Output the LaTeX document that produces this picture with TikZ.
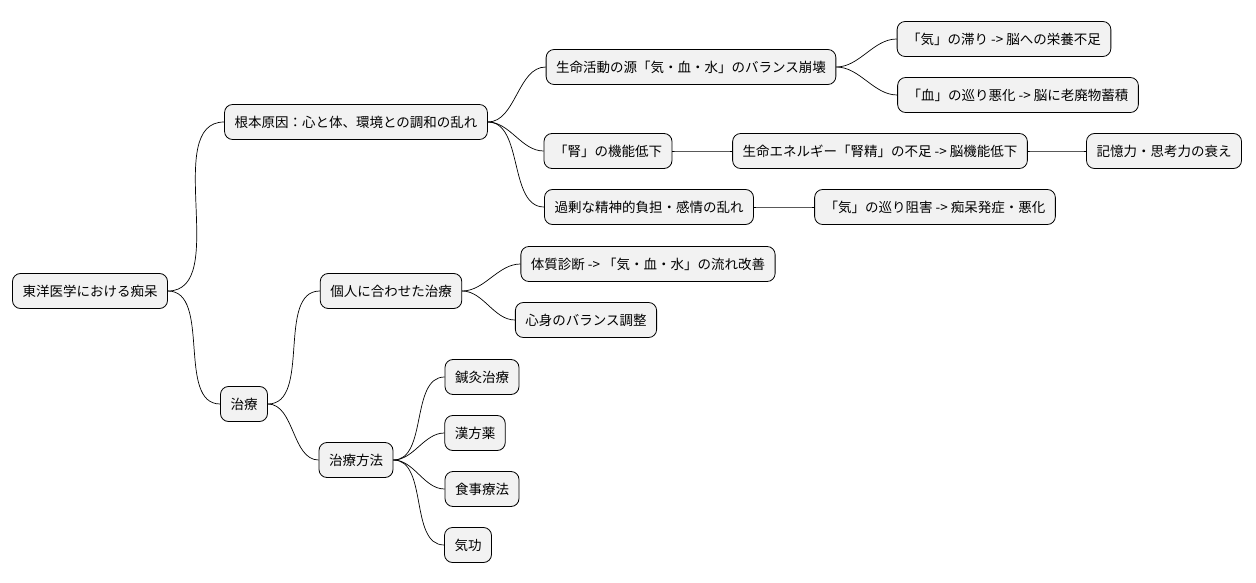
\documentclass[tikz,border=0pt]{standalone}
\usepackage{fontspec}
\setmainfont{Noto Sans CJK JP}
\usetikzlibrary{positioning}

\begin{document}
\begin{tikzpicture}[x=1pt,y=-1pt,
        topic/.style={draw, rounded corners=8pt, fill=gray!10, line width=0.8pt,
            minimum height=35pt, inner xsep=10pt, font=\fontsize{13.5}{15}\selectfont},
        link/.style={line width=0.7pt, out=0, in=180, looseness=0.9}]
    \useasboundingbox (0,0) rectangle (1256,583);
    \node[topic] (root) at (90,291) {東洋医学における痴呆};
    \node[topic] (cause) at (356,122) {根本原因：心と体、環境との調和の乱れ};
    \node[topic] (life) at (691,67) {生命活動の源「気・血・水」のバランス崩壊};
    \node[topic] (qi) at (1004,39) {「気」の滞り -> 脳への栄養不足};
    \node[topic] (blood) at (1018,95) {「血」の巡り悪化 -> 脳に老廃物蓄積};
    \node[topic] (kidney) at (608,151) {「腎」の機能低下};
    \node[topic] (essence) at (880,151) {生命エネルギー「腎精」の不足 -> 脳機能低下};
    \node[topic] (memory) at (1164,151) {記憶力・思考力の衰え};
    \node[topic] (stress) at (649,207) {過剰な精神的負担・感情の乱れ};
    \node[topic] (block) at (935,207) {「気」の巡り阻害 -> 痴呆発症・悪化};
    \node[topic] (care) at (244,404) {治療};
    \node[topic] (person) at (391,291) {個人に合わせた治療};
    \node[topic] (body) at (648,264) {体質診断 -> 「気・血・水」の流れ改善};
    \node[topic] (balance) at (586,320) {心身のバランス調整};
    \node[topic] (method) at (356,460) {治療方法};
    \node[topic] (acu) at (482,377) {鍼灸治療};
    \node[topic] (herb) at (475,433) {漢方薬};
    \node[topic] (diet) at (482,489) {食事療法};
    \node[topic] (qigong) at (468,545) {気功};
    % connectors
    \foreach \a/\b in {root/cause, root/care, cause/life, cause/kidney, cause/stress,
        life/qi, life/blood, kidney/essence, essence/memory, stress/block,
        care/person, care/method, person/body, person/balance,
        method/acu, method/herb, method/diet, method/qigong}
        \draw[link] (\a.east) to (\b.west);
\end{tikzpicture}
\end{document}
